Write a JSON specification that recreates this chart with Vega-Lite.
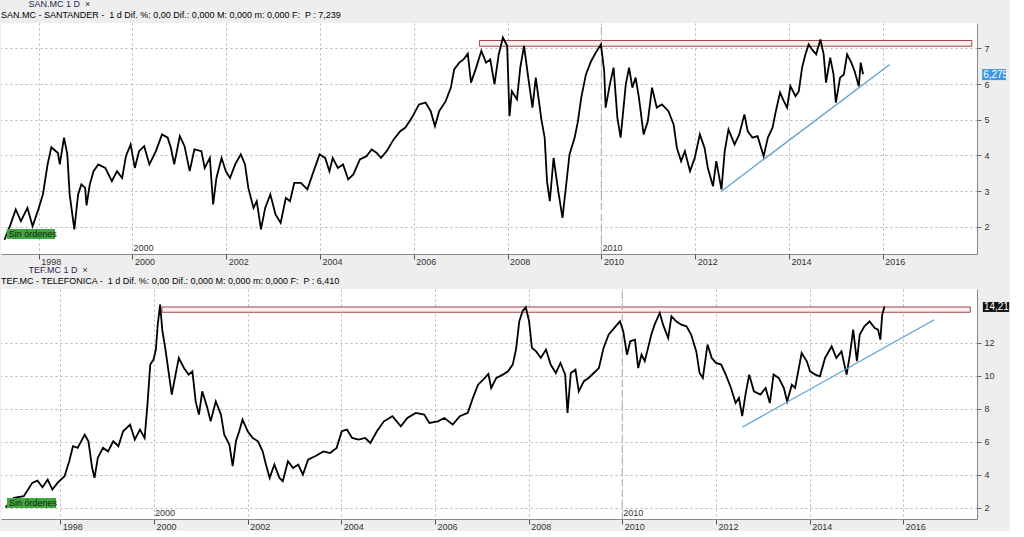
{
  "$schema": "https://vega.github.io/schema/vega-lite/v6.json",
  "padding": 0,
  "background": "#eeeeee",
  "spacing": 0,
  "config": {
    "view": {"stroke": null, "fill": "white"},
    "font": "Liberation Sans",
    "title": {"anchor": "start", "frame": "group", "fontSize": 9, "fontWeight": "normal", "color": "#1b2a55", "subtitleFontSize": 9, "subtitleColor": "#000000", "subtitlePadding": 2, "offset": 2, "font": "Liberation Sans", "subtitleFont": "Liberation Sans"}
  },
  "datasets": {
    "san": [
      {"yr":1997.27,"price":1.64},{"yr":1997.40,"price":2.07},{"yr":1997.51,"price":2.49},{"yr":1997.62,"price":2.16},{"yr":1997.76,"price":2.53},{"yr":1997.87,"price":2.02},{"yr":1997.98,"price":2.44},{"yr":1998.09,"price":2.91},{"yr":1998.19,"price":3.75},{"yr":1998.27,"price":4.23},{"yr":1998.41,"price":4.07},{"yr":1998.45,"price":3.75},{"yr":1998.54,"price":4.50},{"yr":1998.61,"price":4.03},{"yr":1998.66,"price":2.91},{"yr":1998.76,"price":1.93},{"yr":1998.84,"price":2.91},{"yr":1998.91,"price":3.19},{"yr":1998.99,"price":3.09},{"yr":1999.02,"price":2.60},{"yr":1999.09,"price":3.19},{"yr":1999.17,"price":3.56},{"yr":1999.27,"price":3.75},{"yr":1999.42,"price":3.65},{"yr":1999.56,"price":3.28},{"yr":1999.67,"price":3.56},{"yr":1999.78,"price":3.37},{"yr":1999.86,"price":3.98},{"yr":1999.96,"price":4.31},{"yr":2000.05,"price":3.65},{"yr":2000.14,"price":4.12},{"yr":2000.25,"price":4.26},{"yr":2000.36,"price":3.75},{"yr":2000.50,"price":4.12},{"yr":2000.63,"price":4.59},{"yr":2000.75,"price":4.50},{"yr":2000.82,"price":4.21},{"yr":2000.89,"price":3.75},{"yr":2001.01,"price":4.54},{"yr":2001.11,"price":4.26},{"yr":2001.22,"price":3.56},{"yr":2001.32,"price":4.17},{"yr":2001.47,"price":4.12},{"yr":2001.54,"price":3.65},{"yr":2001.65,"price":3.93},{"yr":2001.72,"price":2.63},{"yr":2001.79,"price":3.37},{"yr":2001.90,"price":3.93},{"yr":2001.99,"price":3.56},{"yr":2002.08,"price":3.37},{"yr":2002.19,"price":3.75},{"yr":2002.31,"price":4.03},{"yr":2002.40,"price":3.75},{"yr":2002.47,"price":3.09},{"yr":2002.58,"price":2.53},{"yr":2002.65,"price":2.72},{"yr":2002.74,"price":1.93},{"yr":2002.83,"price":2.53},{"yr":2002.94,"price":2.91},{"yr":2003.05,"price":2.35},{"yr":2003.16,"price":2.11},{"yr":2003.27,"price":2.81},{"yr":2003.36,"price":2.72},{"yr":2003.45,"price":3.23},{"yr":2003.59,"price":3.23},{"yr":2003.73,"price":3.05},{"yr":2003.84,"price":3.47},{"yr":2003.99,"price":4.03},{"yr":2004.11,"price":3.93},{"yr":2004.20,"price":3.56},{"yr":2004.27,"price":3.93},{"yr":2004.38,"price":3.65},{"yr":2004.49,"price":3.75},{"yr":2004.60,"price":3.33},{"yr":2004.71,"price":3.47},{"yr":2004.85,"price":3.89},{"yr":2004.99,"price":3.98},{"yr":2005.10,"price":4.17},{"yr":2005.21,"price":4.07},{"yr":2005.30,"price":3.93},{"yr":2005.42,"price":4.12},{"yr":2005.57,"price":4.45},{"yr":2005.71,"price":4.68},{"yr":2005.82,"price":4.78},{"yr":2005.96,"price":5.06},{"yr":2006.11,"price":5.43},{"yr":2006.25,"price":5.48},{"yr":2006.36,"price":5.24},{"yr":2006.45,"price":4.82},{"yr":2006.54,"price":5.24},{"yr":2006.68,"price":5.52},{"yr":2006.79,"price":5.90},{"yr":2006.86,"price":6.41},{"yr":2006.97,"price":6.60},{"yr":2007.06,"price":6.69},{"yr":2007.15,"price":6.85},{"yr":2007.22,"price":6.04},{"yr":2007.33,"price":6.46},{"yr":2007.44,"price":6.93},{"yr":2007.54,"price":6.60},{"yr":2007.63,"price":6.69},{"yr":2007.72,"price":5.99},{"yr":2007.81,"price":6.83},{"yr":2007.90,"price":7.30},{"yr":2007.99,"price":7.07},{"yr":2008.04,"price":5.10},{"yr":2008.09,"price":5.80},{"yr":2008.20,"price":5.57},{"yr":2008.27,"price":6.46},{"yr":2008.35,"price":7.07},{"yr":2008.44,"price":6.18},{"yr":2008.53,"price":5.34},{"yr":2008.60,"price":6.18},{"yr":2008.72,"price":5.01},{"yr":2008.79,"price":4.50},{"yr":2008.84,"price":3.28},{"yr":2008.90,"price":2.72},{"yr":2008.98,"price":3.93},{"yr":2009.08,"price":3.00},{"yr":2009.17,"price":2.25},{"yr":2009.25,"price":3.19},{"yr":2009.32,"price":4.03},{"yr":2009.43,"price":4.50},{"yr":2009.50,"price":4.96},{"yr":2009.57,"price":5.62},{"yr":2009.67,"price":6.27},{"yr":2009.78,"price":6.64},{"yr":2009.88,"price":6.88},{"yr":2009.99,"price":7.11},{"yr":2010.06,"price":6.36},{"yr":2010.09,"price":5.34},{"yr":2010.18,"price":5.99},{"yr":2010.26,"price":6.46},{"yr":2010.34,"price":5.06},{"yr":2010.41,"price":4.50},{"yr":2010.52,"price":5.99},{"yr":2010.59,"price":6.46},{"yr":2010.66,"price":5.90},{"yr":2010.73,"price":6.18},{"yr":2010.80,"price":5.62},{"yr":2010.90,"price":4.59},{"yr":2010.99,"price":4.96},{"yr":2011.08,"price":5.90},{"yr":2011.18,"price":5.34},{"yr":2011.29,"price":5.43},{"yr":2011.43,"price":5.24},{"yr":2011.54,"price":4.87},{"yr":2011.61,"price":4.21},{"yr":2011.70,"price":3.84},{"yr":2011.78,"price":4.12},{"yr":2011.89,"price":3.56},{"yr":2011.99,"price":3.93},{"yr":2012.10,"price":4.59},{"yr":2012.20,"price":4.21},{"yr":2012.27,"price":3.65},{"yr":2012.38,"price":3.14},{"yr":2012.45,"price":3.84},{"yr":2012.56,"price":3.05},{"yr":2012.63,"price":4.12},{"yr":2012.71,"price":4.73},{"yr":2012.84,"price":4.31},{"yr":2012.94,"price":4.59},{"yr":2013.05,"price":5.15},{"yr":2013.12,"price":4.68},{"yr":2013.22,"price":4.50},{"yr":2013.33,"price":4.54},{"yr":2013.46,"price":3.98},{"yr":2013.55,"price":4.50},{"yr":2013.65,"price":4.78},{"yr":2013.72,"price":5.24},{"yr":2013.81,"price":5.76},{"yr":2013.89,"price":5.52},{"yr":2013.96,"price":5.34},{"yr":2014.03,"price":5.94},{"yr":2014.14,"price":5.66},{"yr":2014.21,"price":5.80},{"yr":2014.28,"price":6.46},{"yr":2014.35,"price":6.83},{"yr":2014.42,"price":7.11},{"yr":2014.49,"price":6.97},{"yr":2014.58,"price":6.83},{"yr":2014.67,"price":7.25},{"yr":2014.74,"price":6.83},{"yr":2014.79,"price":6.04},{"yr":2014.88,"price":6.74},{"yr":2014.95,"price":6.27},{"yr":2015.00,"price":5.48},{"yr":2015.09,"price":6.18},{"yr":2015.17,"price":6.27},{"yr":2015.24,"price":6.83},{"yr":2015.33,"price":6.60},{"yr":2015.40,"price":6.36},{"yr":2015.49,"price":5.94},{"yr":2015.53,"price":6.60},{"yr":2015.58,"price":6.275}
    ],
    "tef": [
      {"yr":1996.83,"price":2.04},{"yr":1997.01,"price":2.61},{"yr":1997.22,"price":2.71},{"yr":1997.40,"price":3.52},{"yr":1997.51,"price":3.66},{"yr":1997.62,"price":3.25},{"yr":1997.73,"price":3.72},{"yr":1997.83,"price":3.11},{"yr":1997.94,"price":3.52},{"yr":1998.09,"price":3.92},{"yr":1998.19,"price":4.83},{"yr":1998.27,"price":5.74},{"yr":1998.37,"price":5.64},{"yr":1998.52,"price":6.44},{"yr":1998.60,"price":6.04},{"yr":1998.68,"price":4.42},{"yr":1998.73,"price":3.82},{"yr":1998.80,"price":5.03},{"yr":1998.91,"price":5.64},{"yr":1999.02,"price":5.43},{"yr":1999.13,"price":6.04},{"yr":1999.24,"price":5.74},{"yr":1999.34,"price":6.65},{"yr":1999.49,"price":7.05},{"yr":1999.59,"price":6.14},{"yr":1999.70,"price":6.75},{"yr":1999.80,"price":6.24},{"yr":1999.86,"price":8.26},{"yr":1999.92,"price":10.69},{"yr":1999.99,"price":10.99},{"yr":2000.04,"price":11.60},{"yr":2000.08,"price":13.11},{"yr":2000.13,"price":14.32},{"yr":2000.18,"price":12.71},{"yr":2000.24,"price":11.70},{"yr":2000.30,"price":10.48},{"yr":2000.38,"price":8.87},{"yr":2000.46,"price":10.08},{"yr":2000.53,"price":11.09},{"yr":2000.64,"price":10.48},{"yr":2000.74,"price":10.08},{"yr":2000.82,"price":10.28},{"yr":2000.89,"price":8.46},{"yr":2000.96,"price":7.66},{"yr":2001.03,"price":9.07},{"yr":2001.14,"price":8.06},{"yr":2001.21,"price":7.25},{"yr":2001.32,"price":8.46},{"yr":2001.43,"price":7.66},{"yr":2001.50,"price":6.44},{"yr":2001.61,"price":5.84},{"yr":2001.68,"price":4.53},{"yr":2001.75,"price":6.04},{"yr":2001.82,"price":6.65},{"yr":2001.89,"price":7.35},{"yr":2002.00,"price":6.65},{"yr":2002.11,"price":6.24},{"yr":2002.22,"price":6.04},{"yr":2002.32,"price":5.43},{"yr":2002.39,"price":4.63},{"yr":2002.47,"price":3.82},{"yr":2002.57,"price":4.63},{"yr":2002.68,"price":3.82},{"yr":2002.75,"price":3.62},{"yr":2002.86,"price":4.83},{"yr":2002.97,"price":4.42},{"yr":2003.08,"price":4.63},{"yr":2003.18,"price":4.02},{"yr":2003.29,"price":4.93},{"yr":2003.44,"price":5.13},{"yr":2003.62,"price":5.43},{"yr":2003.76,"price":5.33},{"yr":2003.90,"price":5.64},{"yr":2004.01,"price":6.65},{"yr":2004.12,"price":6.75},{"yr":2004.23,"price":6.24},{"yr":2004.37,"price":6.14},{"yr":2004.51,"price":6.24},{"yr":2004.62,"price":5.94},{"yr":2004.76,"price":6.65},{"yr":2004.91,"price":7.25},{"yr":2005.09,"price":7.56},{"yr":2005.27,"price":6.95},{"yr":2005.41,"price":7.45},{"yr":2005.59,"price":7.76},{"yr":2005.77,"price":7.66},{"yr":2005.88,"price":7.15},{"yr":2006.06,"price":7.25},{"yr":2006.20,"price":7.45},{"yr":2006.38,"price":7.05},{"yr":2006.53,"price":7.56},{"yr":2006.70,"price":7.76},{"yr":2006.81,"price":8.67},{"yr":2006.92,"price":9.47},{"yr":2007.03,"price":9.78},{"yr":2007.14,"price":10.12},{"yr":2007.20,"price":9.27},{"yr":2007.31,"price":9.88},{"yr":2007.45,"price":10.08},{"yr":2007.56,"price":10.28},{"yr":2007.66,"price":10.69},{"yr":2007.73,"price":11.60},{"yr":2007.80,"price":13.31},{"yr":2007.87,"price":13.92},{"yr":2007.94,"price":14.16},{"yr":2008.01,"price":13.31},{"yr":2008.07,"price":11.70},{"yr":2008.16,"price":11.49},{"yr":2008.26,"price":11.09},{"yr":2008.37,"price":11.60},{"yr":2008.47,"price":10.69},{"yr":2008.58,"price":10.18},{"yr":2008.68,"price":10.79},{"yr":2008.78,"price":10.08},{"yr":2008.83,"price":7.76},{"yr":2008.90,"price":10.18},{"yr":2009.00,"price":10.38},{"yr":2009.07,"price":9.07},{"yr":2009.18,"price":9.68},{"yr":2009.28,"price":9.88},{"yr":2009.39,"price":10.18},{"yr":2009.50,"price":10.48},{"yr":2009.60,"price":11.70},{"yr":2009.71,"price":12.51},{"yr":2009.83,"price":12.91},{"yr":2009.95,"price":13.31},{"yr":2010.02,"price":12.71},{"yr":2010.10,"price":11.29},{"yr":2010.17,"price":12.10},{"yr":2010.27,"price":12.20},{"yr":2010.34,"price":10.48},{"yr":2010.41,"price":11.29},{"yr":2010.48,"price":10.89},{"yr":2010.55,"price":11.70},{"yr":2010.62,"price":12.51},{"yr":2010.69,"price":13.11},{"yr":2010.80,"price":13.82},{"yr":2010.87,"price":13.11},{"yr":2010.98,"price":12.30},{"yr":2011.05,"price":13.62},{"yr":2011.15,"price":13.31},{"yr":2011.26,"price":13.11},{"yr":2011.37,"price":13.01},{"yr":2011.47,"price":12.51},{"yr":2011.58,"price":11.49},{"yr":2011.65,"price":10.18},{"yr":2011.72,"price":9.88},{"yr":2011.82,"price":11.90},{"yr":2011.91,"price":11.09},{"yr":2012.00,"price":10.79},{"yr":2012.11,"price":10.69},{"yr":2012.21,"price":10.08},{"yr":2012.32,"price":9.27},{"yr":2012.42,"price":8.36},{"yr":2012.49,"price":8.67},{"yr":2012.56,"price":7.56},{"yr":2012.63,"price":8.87},{"yr":2012.71,"price":10.08},{"yr":2012.81,"price":9.07},{"yr":2012.95,"price":8.87},{"yr":2013.06,"price":9.27},{"yr":2013.15,"price":8.36},{"yr":2013.23,"price":10.08},{"yr":2013.34,"price":9.88},{"yr":2013.45,"price":9.27},{"yr":2013.52,"price":8.46},{"yr":2013.62,"price":9.47},{"yr":2013.69,"price":9.27},{"yr":2013.83,"price":11.39},{"yr":2013.94,"price":10.89},{"yr":2014.01,"price":10.28},{"yr":2014.12,"price":10.08},{"yr":2014.22,"price":9.98},{"yr":2014.33,"price":11.09},{"yr":2014.47,"price":11.80},{"yr":2014.57,"price":11.09},{"yr":2014.68,"price":11.49},{"yr":2014.79,"price":10.08},{"yr":2014.86,"price":11.29},{"yr":2014.93,"price":12.81},{"yr":2015.01,"price":10.89},{"yr":2015.07,"price":12.51},{"yr":2015.17,"price":13.01},{"yr":2015.28,"price":13.31},{"yr":2015.39,"price":12.91},{"yr":2015.46,"price":12.81},{"yr":2015.51,"price":12.20},{"yr":2015.55,"price":13.72},{"yr":2015.60,"price":14.21}
    ],
    "san_res": [{"yr":2007.40,"yr2":2017.90,"price":7.06,"price2":7.22}],
    "san_trend": [{"yr":2012.56,"price":3.0,"yr2":2016.15,"price2":6.55}],
    "tef_res": [{"yr":2000.17,"yr2":2017.43,"price":13.86,"price2":14.18}],
    "tef_trend": [{"yr":2012.56,"price":6.89,"yr2":2016.66,"price2":13.41}],
    "san_decade_line": [{"yr":2010,"price":1.24,"price2":7.71}],
    "tef_decade_line": [{"yr":2010,"price":1.33,"price2":15.27}],
    "san_decades": [{"yr":2000,"price":1.24,"label":"2000"},{"yr":2010,"price":1.24,"label":"2010"}],
    "tef_decades": [{"yr":2000,"price":1.33,"label":"2000"},{"yr":2010,"price":1.33,"label":"2010"}],
    "san_tag": [{"yr":2018.12,"yr2":2018.63,"price":6.11,"price2":6.42,"mid":6.265,"label":"6,275"}],
    "tef_tag": [{"yr":2017.70,"yr2":2018.26,"price":13.88,"price2":14.48,"mid":14.18,"label":"14,21"}],
    "san_sin": [{"yr":1997.32,"yr2":1998.35,"price":1.66,"price2":1.94,"mid":1.80,"label":"Sin órdenes"}],
    "tef_sin": [{"yr":1996.86,"yr2":1997.91,"price":2.0,"price2":2.61,"mid":2.3,"label":"Sin órdenes"}]
  },
  "vconcat": [
    {
      "width": 976,
      "height": 231,
      "title": {"text": "\u200b\u00a0\u00a0\u00a0\u00a0\u00a0\u00a0\u00a0\u00a0\u00a0\u00a0\u00a0SAN.MC 1 D \u00a0×", "subtitle": "SAN.MC - SANTANDER - \u00a01 d Dif. %: 0,00 Dif.: 0,000 M: 0,000 m: 0,000 F: \u00a0P : 7,239"},
      "encoding": {
        "x": {"field": "yr", "type": "quantitative", "scale": {"domain": [1997.196, 2018.01], "nice": false, "zero": false},
          "axis": {"values": [1998,2000,2002,2004,2006,2008,2010,2012,2014,2016], "format": "d", "title": null, "grid": true, "gridColor": "#b4b4b4", "gridDash": [2,3], "gridWidth": 1, "gridOpacity": 1, "tickSize": 5, "tickColor": "#555555", "labelAlign": "left", "labelBaseline": "top", "labelPadding": -2, "labelOffset": 2, "labelFontSize": 9, "labelColor": "#333333", "domainColor": "#888888", "labelFlush": false, "labelOverlap": false}},
        "y": {"field": "price", "type": "quantitative", "scale": {"domain": [1.24, 7.71], "nice": false, "zero": false},
          "axis": {"orient": "right", "title": null, "values": [2,3,4,5,6,7], "format": "d", "grid": true, "gridColor": "#b4b4b4", "gridDash": [2,3], "gridWidth": 1, "gridOpacity": 1, "tickSize": 4, "tickColor": "#666666", "labelPadding": 3, "labelFontSize": 9, "labelColor": "#333333", "domainColor": "#888888", "labelOverlap": false}}
      },
      "layer": [
        {
          "data": {"name": "san_res"},
          "mark": {"type": "rect", "fill": "#faeeee", "stroke": "#9c4a4a", "strokeWidth": 1},
          "encoding": {"x2": {"field": "yr2"}, "y2": {"field": "price2"}}
        },
        {
          "data": {"name": "san_decade_line"},
          "mark": {"type": "rule", "stroke": "#b5b5b5", "strokeDash": [7,4], "strokeWidth": 1.2},
          "encoding": {"y2": {"field": "price2"}}
        },
        {
          "data": {"name": "san"},
          "mark": {"type": "line", "color": "black", "strokeWidth": 1.8}
        },
        {
          "data": {"name": "san_trend"},
          "mark": {"type": "rule", "stroke": "#5a9fcf", "strokeWidth": 1.2},
          "encoding": {"x2": {"field": "yr2"}, "y2": {"field": "price2"}}
        },
        {
          "data": {"name": "san_decades"},
          "mark": {"type": "text", "align": "left", "baseline": "bottom", "dx": 1, "dy": -1, "fontSize": 9, "color": "#333333"},
          "encoding": {"text": {"field": "label"}}
        },
        {
          "data": {"name": "san_sin"},
          "mark": {"type": "rect", "fill": "#3da83d"},
          "encoding": {"x2": {"field": "yr2"}, "y2": {"field": "price2"}}
        },
        {
          "data": {"name": "san_sin"},
          "mark": {"type": "text", "align": "left", "baseline": "middle", "dx": 2, "fontSize": 9, "color": "#1a1a1a"},
          "encoding": {"y": {"field": "mid", "type": "quantitative"}, "text": {"field": "label"}}
        },
        {
          "data": {"name": "san_tag"},
          "mark": {"type": "rect", "fill": "#3d98dc", "clip": false},
          "encoding": {"x2": {"field": "yr2"}, "y2": {"field": "price2"}}
        },
        {
          "data": {"name": "san_tag"},
          "mark": {"type": "text", "align": "left", "baseline": "middle", "dx": 1, "fontSize": 10, "color": "white", "clip": false},
          "encoding": {"y": {"field": "mid", "type": "quantitative"}, "text": {"field": "label"}}
        }
      ]
    },
    {
      "width": 976,
      "height": 230,
      "title": {"text": "\u200b\u00a0\u00a0\u00a0\u00a0\u00a0\u00a0\u00a0\u00a0\u00a0\u00a0\u00a0TEF.MC 1 D \u00a0×", "color": "#3a1d55", "subtitle": "TEF.MC - TELEFONICA - \u00a01 d Dif. %: 0,00 Dif.: 0,000 M: 0,000 m: 0,000 F: \u00a0P : 6,410"},
      "encoding": {
        "x": {"field": "yr", "type": "quantitative", "scale": {"domain": [1996.733, 2017.574], "nice": false, "zero": false},
          "axis": {"values": [1998,2000,2002,2004,2006,2008,2010,2012,2014,2016], "format": "d", "title": null, "grid": true, "gridColor": "#b4b4b4", "gridDash": [2,3], "gridWidth": 1, "gridOpacity": 1, "tickSize": 5, "tickColor": "#555555", "labelAlign": "left", "labelBaseline": "top", "labelPadding": -2, "labelOffset": 2, "labelFontSize": 9, "labelColor": "#333333", "domainColor": "#888888", "labelFlush": false, "labelOverlap": false}},
        "y": {"field": "price", "type": "quantitative", "scale": {"domain": [1.33, 15.27], "nice": false, "zero": false},
          "axis": {"orient": "right", "title": null, "values": [2,4,6,8,10,12], "format": "d", "grid": true, "gridColor": "#b4b4b4", "gridDash": [2,3], "gridWidth": 1, "gridOpacity": 1, "tickSize": 4, "tickColor": "#666666", "labelPadding": 3, "labelFontSize": 9, "labelColor": "#333333", "domainColor": "#888888", "labelOverlap": false}}
      },
      "layer": [
        {
          "data": {"name": "tef_res"},
          "mark": {"type": "rect", "fill": "#faeeee", "stroke": "#9c4a4a", "strokeWidth": 1},
          "encoding": {"x2": {"field": "yr2"}, "y2": {"field": "price2"}}
        },
        {
          "data": {"name": "tef_decade_line"},
          "mark": {"type": "rule", "stroke": "#b5b5b5", "strokeDash": [7,4], "strokeWidth": 1.2},
          "encoding": {"y2": {"field": "price2"}}
        },
        {
          "data": {"name": "tef"},
          "mark": {"type": "line", "color": "black", "strokeWidth": 1.8}
        },
        {
          "data": {"name": "tef_trend"},
          "mark": {"type": "rule", "stroke": "#5a9fcf", "strokeWidth": 1.2},
          "encoding": {"x2": {"field": "yr2"}, "y2": {"field": "price2"}}
        },
        {
          "data": {"name": "tef_decades"},
          "mark": {"type": "text", "align": "left", "baseline": "bottom", "dx": 1, "dy": -1, "fontSize": 9, "color": "#333333"},
          "encoding": {"text": {"field": "label"}}
        },
        {
          "data": {"name": "tef_sin"},
          "mark": {"type": "rect", "fill": "#3da83d"},
          "encoding": {"x2": {"field": "yr2"}, "y2": {"field": "price2"}}
        },
        {
          "data": {"name": "tef_sin"},
          "mark": {"type": "text", "align": "left", "baseline": "middle", "dx": 2, "fontSize": 9, "color": "#1a1a1a"},
          "encoding": {"y": {"field": "mid", "type": "quantitative"}, "text": {"field": "label"}}
        },
        {
          "data": {"name": "tef_tag"},
          "mark": {"type": "rect", "fill": "#111111", "clip": false},
          "encoding": {"x2": {"field": "yr2"}, "y2": {"field": "price2"}}
        },
        {
          "data": {"name": "tef_tag"},
          "mark": {"type": "text", "align": "left", "baseline": "middle", "dx": 1, "fontSize": 10, "color": "white", "clip": false},
          "encoding": {"y": {"field": "mid", "type": "quantitative"}, "text": {"field": "label"}}
        }
      ]
    }
  ]
}
